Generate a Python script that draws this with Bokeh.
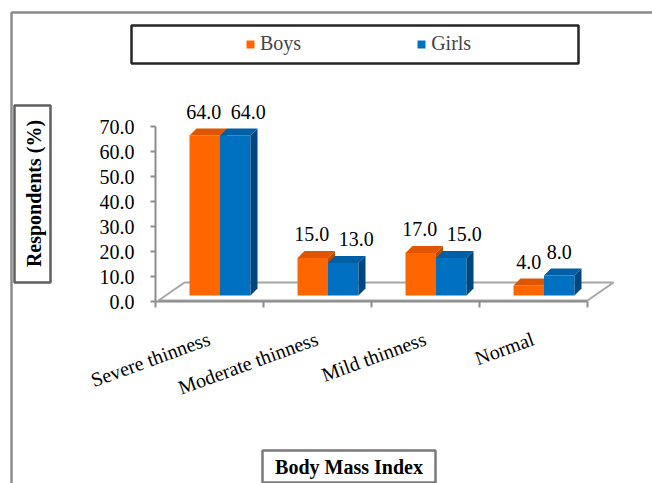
import math
from bokeh.plotting import figure
from bokeh.models import (Range1d, FixedTicker, PrintfTickFormatter, ColumnDataSource,
                          LabelSet, Label, BoxAnnotation, Legend, LegendItem)
from bokeh.embed import file_html
from bokeh.resources import INLINE

# ---------------- data ----------------
categories = ["Severe thinness", "Moderate thinness", "Mild thinness", "Normal"]
boys = [64.0, 15.0, 17.0, 4.0]
girls = [64.0, 13.0, 15.0, 8.0]
y_ticks = [0, 10, 20, 30, 40, 50, 60, 70]
series_names = ["Boys", "Girls"]
y_title = "Respondents (%)"
x_title = "Body Mass Index"

# ---------------- layout helpers ----------------
W, H = 652, 483
OX, OY = 155, 301            # pixel position of data origin (0, 0)
PXX, PXY = 108.0, 2.5        # pixels per data unit
FONT = "Liberation Serif"

def dx(px):  # pixel distance -> x data distance
    return px / PXX

def dy(px):  # pixel distance -> y data distance
    return px / PXY

def X(px):   # canvas pixel -> x data
    return (px - OX) / PXX

def Y(py):   # canvas pixel -> y data
    return (OY - py) / PXY

n = len(categories)

p = figure(width=W, height=H,
           x_range=Range1d(X(0), X(W)), y_range=Range1d(Y(H), Y(0)),
           output_backend="svg", toolbar_location=None,
           min_border=0, min_border_left=0, min_border_right=0,
           min_border_top=0, min_border_bottom=0)
p.outline_line_color = None
p.grid.visible = False
p.background_fill_color = "white"
p.border_fill_color = "white"

# ---------------- outer chart border & text boxes ----------------
def frame_box(l, r, t, b, color, width=2.5):
    p.add_layout(BoxAnnotation(left=X(l), right=X(r), top=Y(t), bottom=Y(b),
                               fill_color=None, fill_alpha=0,
                               line_color=color, line_alpha=1.0, line_width=width))

frame_box(11, 700, 12, 520, "#8C8C8C")
frame_box(131, 578, 25, 63, "#262626")
frame_box(14, 50, 105, 282, "#5F5F5F")
frame_box(262, 435, 450, 482, "#7A7A7A")

# ---------------- floor ----------------
depth_x, depth_y = dx(26), dy(18)
floor_front_y = dy(1)
p.patch([dx(3), n, n + depth_x, dx(3) + depth_x],
        [floor_front_y, floor_front_y, floor_front_y + depth_y, floor_front_y + depth_y],
        fill_color="white", line_color="#A6A6A6", line_width=2)

# ---------------- 3D bars ----------------
base = dy(6)
ddx, ddy = dx(7), dy(7)
colors = {
    "Boys": ("#FF6600", "#E05500", "#C04A00"),
    "Girls": ("#0070C0", "#005FA5", "#00477D"),
}
offsets = {"Boys": (-20, 10.5), "Girls": (10.5, 41)}

front_renderers = {}
for name, vals in (("Boys", boys), ("Girls", girls)):
    lo, hi = offsets[name]
    lefts = [i + 0.5 + dx(lo) for i in range(n)]
    rights = [i + 0.5 + dx(hi) for i in range(n)]
    tops = [base + v for v in vals]
    bottoms = [base] * n
    front, top_c, side_c = colors[name]
    r = p.quad(left=lefts, right=rights, top=tops, bottom=bottoms,
               fill_color=front, line_color=None)
    front_renderers[name] = r
    cap_xs = [[l, rr, rr + ddx, l + ddx] for l, rr in zip(lefts, rights)]
    cap_ys = [[t, t, t + ddy, t + ddy] for t in tops]
    p.patches(cap_xs, cap_ys, fill_color=top_c, line_color=None)
    side_xs = [[rr, rr + ddx, rr + ddx, rr] for rr in rights]
    side_ys = [[b, b + ddy, t + ddy, t] for b, t in zip(bottoms, tops)]
    p.patches(side_xs, side_ys, fill_color=side_c, line_color=None)

# ---------------- value labels ----------------
lab_x, lab_y, lab_t = [], [], []
for i in range(n):
    close = abs(boys[i] - girls[i]) < 3
    bc = i + 0.5 + dx((offsets["Boys"][0] + offsets["Boys"][1]) / 2)
    gc = i + 0.5 + dx((offsets["Girls"][0] + offsets["Girls"][1]) / 2)
    lab_x += [bc + (dx(-1) if close else 0), gc + (dx(13) if close else 0)]
    lab_y += [base + boys[i] + ddy + dy(10), base + girls[i] + ddy + dy(10)]
    lab_t += ["%.1f" % boys[i], "%.1f" % girls[i]]
vsrc = ColumnDataSource(dict(x=lab_x, y=lab_y, t=lab_t))
p.add_layout(LabelSet(x="x", y="y", text="t", source=vsrc, text_align="center",
                      text_baseline="alphabetic", text_font=FONT,
                      text_font_size="20px", text_color="black"))

# ---------------- category labels ----------------
csrc = ColumnDataSource(dict(x=[i + 0.5 + dx(2) for i in range(n)],
                             y=[Y(344)] * n, t=categories))
p.add_layout(LabelSet(x="x", y="y", text="t", source=csrc, angle=20, angle_units="deg",
                      text_align="right", text_baseline="alphabetic", text_font=FONT,
                      text_font_size="20px", text_color="black"))

# ---------------- axes (placed at the data origin) ----------------
ax_col = "#8C8C8C"
ya = p.yaxis[0]
ya.fixed_location = 0
ya.ticker = FixedTicker(ticks=y_ticks)
ya.formatter = PrintfTickFormatter(format="%.1f")
ya.bounds = (y_ticks[0], y_ticks[-1])
ya.axis_line_color = ax_col
ya.axis_line_width = 2
ya.major_tick_line_color = ax_col
ya.major_tick_line_width = 2
ya.major_tick_out = 5
ya.major_tick_in = 0
ya.minor_tick_line_color = None
ya.major_label_standoff = 16
ya.major_label_text_font = FONT
ya.major_label_text_font_size = "20px"
ya.major_label_text_color = "black"

xa = p.xaxis[0]
xa.fixed_location = 0
xa.ticker = FixedTicker(ticks=list(range(n + 1)))
xa.major_label_overrides = {i: "" for i in range(n + 1)}
xa.bounds = (0, n)
xa.axis_line_color = ax_col
xa.axis_line_width = 2
xa.major_tick_line_color = ax_col
xa.major_tick_line_width = 2
xa.major_tick_out = 6
xa.major_tick_in = 0
xa.minor_tick_line_color = None

# ---------------- axis titles ----------------
p.add_layout(Label(x=X(33), y=Y(193), text=y_title, angle=90, angle_units="deg",
                   text_align="center", text_baseline="middle", text_font=FONT,
                   text_font_size="20px", text_font_style="bold", text_color="black"))
p.add_layout(Label(x=X(348.5), y=Y(466), text=x_title,
                   text_align="center", text_baseline="middle", text_font=FONT,
                   text_font_size="20px", text_font_style="bold", text_color="black"))

# ---------------- legend ----------------
legend = Legend(items=[LegendItem(label=series_names[0], renderers=[front_renderers["Boys"]]),
                       LegendItem(label=series_names[1], renderers=[front_renderers["Girls"]])],
                orientation="horizontal", location=(245, H - 55),
                border_line_color=None, background_fill_alpha=0, padding=0, margin=0,
                spacing=115, glyph_width=10, glyph_height=10, label_standoff=5,
                label_text_font=FONT, label_text_font_size="20px", label_height=20)
p.add_layout(legend)

open("out.html", "w").write(file_html(p, INLINE))
